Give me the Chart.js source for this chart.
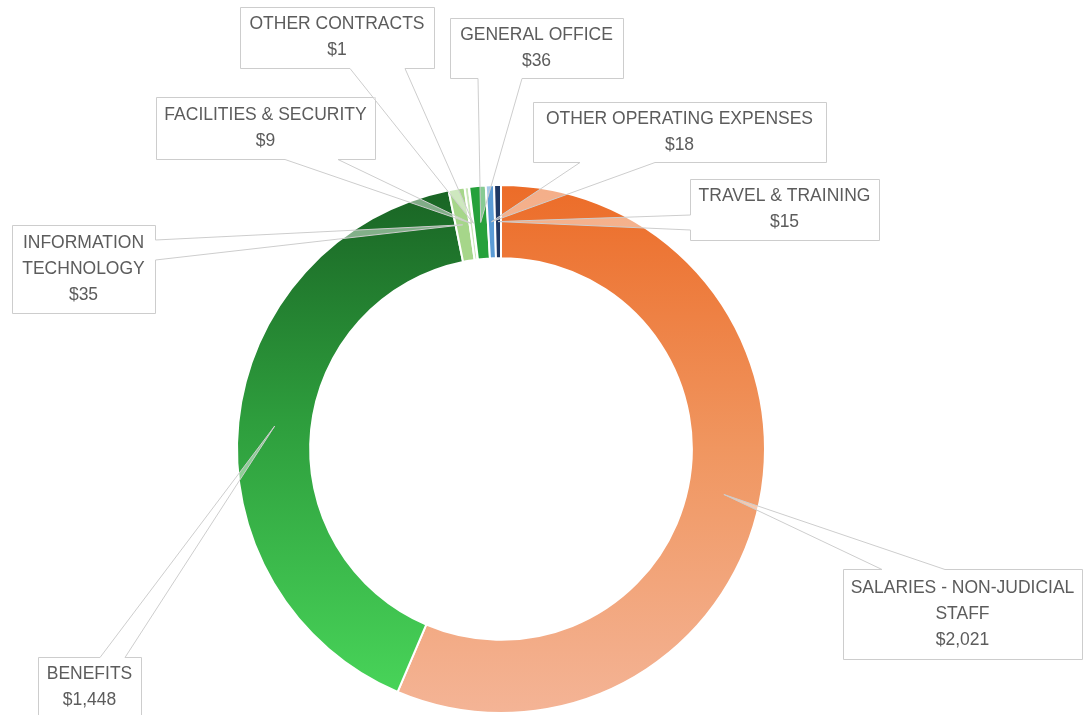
<!DOCTYPE html>
<html>
<head>
<meta charset="utf-8">
<script src="https://cdn.jsdelivr.net/npm/chart.js@4.4.1/dist/chart.umd.min.js"></script>
<style>
  html, body { margin: 0; padding: 0; background: #fff; }
  #wrap { width: 1084px; height: 715px; position: relative; }
</style>
</head>
<body>
<div id="wrap"><canvas id="myChart"></canvas></div>
<script>
// Budget categories, clockwise from 12 o'clock
const categories = [
    'SALARIES - NON-JUDICIAL STAFF', 'BENEFITS', 'INFORMATION TECHNOLOGY',
    'FACILITIES & SECURITY', 'OTHER CONTRACTS', 'GENERAL OFFICE',
    'OTHER OPERATING EXPENSES', 'TRAVEL & TRAINING'
];
const amounts = [2021, 1448, 35, 9, 1, 36, 18, 15];

// Solid colours for the small slices (the two big ones get gradients)
const sliceColors = ['#ed7d31', '#2e9e3d', '#a6d68a', '#c9e7b8', '#70ad47', '#26a13b', '#5b9bd5', '#1f3864'];
const orangeStops = [[0, '#ec6c28'], [0.5, '#f09660'], [1, '#f4b496']];
const greenStops = [[0, '#196324'], [0.45, '#2e9e3d'], [1, '#4ad85b']];

// Callout boxes: position/size, the side the pointer leaves from and where along that side
const calloutBoxes = [
    { x: 843, y: 569, w: 239, h: 90, side: 'top', a: 882, b: 945 },
    { x: 38, y: 657, w: 103, h: 61, side: 'top', a: 100, b: 125 },
    { x: 12, y: 225, w: 143, h: 88, side: 'right', a: 240, b: 260 },
    { x: 156, y: 97, w: 219, h: 62, side: 'bottom', a: 285, b: 338 },
    { x: 240, y: 7, w: 194, h: 61, side: 'bottom', a: 350, b: 405 },
    { x: 450, y: 18, w: 173, h: 60, side: 'bottom', a: 478, b: 522 },
    { x: 533, y: 102, w: 293, h: 60, side: 'bottom', a: 580, b: 655 },
    { x: 690, y: 179, w: 189, h: 61, side: 'left', a: 215, b: 230 }
];

const labelFont = '17.5px "Liberation Sans", Arial, sans-serif';
const lineHeight = 26;

// Gradient fill for the two large slices
function sliceFill(context) {
    const chart = context.chart;
    const area = chart.chartArea;
    const i = context.dataIndex;
    if (!area || (i !== 0 && i !== 1)) return sliceColors[i];
    const g = chart.ctx.createLinearGradient(0, area.top, 0, area.bottom);
    (i === 0 ? orangeStops : greenStops).forEach(s => g.addColorStop(s[0], s[1]));
    return g;
}

function formatMoney(v) {
    return '$' + v.toLocaleString('en-US');
}

function wrapLabel(ctx, text, maxWidth) {
    const words = text.split(' ');
    const lines = [];
    let line = '';
    words.forEach(w => {
        const test = line ? line + ' ' + w : w;
        if (ctx.measureText(test).width > maxWidth && line) {
            lines.push(line);
            line = w;
        } else {
            line = test;
        }
    });
    if (line) lines.push(line);
    return lines;
}

// Outline of box + wedge pointer, traced clockwise
function outlinePath(ctx, box, tip) {
    const x0 = Math.round(box.x) + 0.5, y0 = Math.round(box.y) + 0.5;
    const x1 = Math.round(box.x + box.w) + 0.5, y1 = Math.round(box.y + box.h) + 0.5;
    ctx.beginPath();
    ctx.moveTo(x0, y0);
    if (box.side === 'top') { ctx.lineTo(box.a, y0); ctx.lineTo(tip.x, tip.y); ctx.lineTo(box.b, y0); }
    ctx.lineTo(x1, y0);
    if (box.side === 'right') { ctx.lineTo(x1, box.a); ctx.lineTo(tip.x, tip.y); ctx.lineTo(x1, box.b); }
    ctx.lineTo(x1, y1);
    if (box.side === 'bottom') { ctx.lineTo(box.b, y1); ctx.lineTo(tip.x, tip.y); ctx.lineTo(box.a, y1); }
    ctx.lineTo(x0, y1);
    if (box.side === 'left') { ctx.lineTo(x0, box.b); ctx.lineTo(tip.x, tip.y); ctx.lineTo(x0, box.a); }
    ctx.closePath();
}

function drawCallout(ctx, box, tip) {
    // translucent pointer
    outlinePath(ctx, box, tip);
    ctx.fillStyle = 'rgba(255,255,255,0.45)';
    ctx.fill();
    // opaque box body
    ctx.fillStyle = '#ffffff';
    ctx.fillRect(box.x, box.y, box.w, box.h);
    outlinePath(ctx, box, tip);
    ctx.strokeStyle = '#cdcdcd';
    ctx.lineWidth = 1;
    ctx.stroke();
}

function drawLabel(ctx, box, name, value) {
    ctx.font = labelFont;
    ctx.fillStyle = '#5c5c5c';
    ctx.textAlign = 'center';
    ctx.textBaseline = 'middle';
    const lines = wrapLabel(ctx, name, box.w - 6);
    lines.push(formatMoney(value));
    const cx = box.x + box.w / 2;
    let y = box.y + box.h / 2 - (lines.length - 1) * lineHeight / 2;
    lines.forEach(l => {
        ctx.fillText(l, cx, y);
        y += lineHeight;
    });
}

const calloutPlugin = {
    id: 'callouts',
    afterDatasetsDraw(chart) {
        const ctx = chart.ctx;
        const meta = chart.getDatasetMeta(0);
        ctx.save();
        meta.data.forEach((arc, i) => {
            drawCallout(ctx, calloutBoxes[i], arc.tooltipPosition());
        });
        meta.data.forEach((arc, i) => {
            drawLabel(ctx, calloutBoxes[i], categories[i], amounts[i]);
        });
        ctx.restore();
    }
};

const ctx = document.getElementById('myChart').getContext('2d');
new Chart(ctx, {
    type: 'doughnut',
    data: {
        labels: categories,
        datasets: [{
            data: amounts,
            backgroundColor: sliceFill,
            borderColor: '#ffffff',
            borderWidth: 2
        }]
    },
    options: {
        responsive: true,
        maintainAspectRatio: false,
        animation: false,
        cutout: '72.3%',
        layout: { padding: { top: 184, bottom: 1, left: 236, right: 318 } },
        plugins: {
            legend: { display: false },
            tooltip: { enabled: false }
        }
    },
    plugins: [calloutPlugin]
});
</script>
</body>
</html>
